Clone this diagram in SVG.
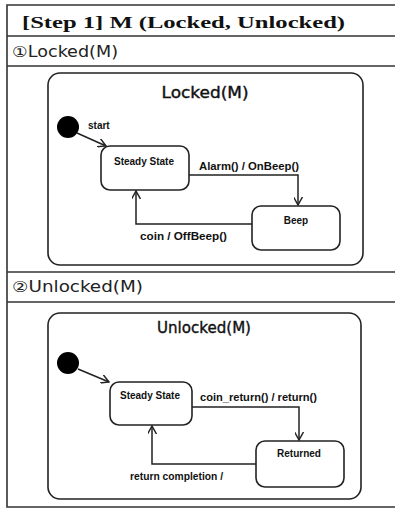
<svg xmlns="http://www.w3.org/2000/svg" width="395" height="509" viewBox="0 0 395 509">
<style>
.frame{fill:none;stroke:#333;stroke-width:1.6}
.sep{stroke:#333;stroke-width:1.6}
.outer{fill:#fff;stroke:#222;stroke-width:1.6}
.st{fill:#fff;stroke:#222;stroke-width:1.6}
.edge{fill:none;stroke:#222;stroke-width:1.5}
.hdr{font-family:"Liberation Serif","DejaVu Serif",serif;font-weight:bold;font-size:17px;fill:#111}
.sec{font-family:"DejaVu Sans Condensed","DejaVu Sans",sans-serif;font-size:15px;fill:#222}
.ttl{font-family:"DejaVu Sans",sans-serif;font-size:16px;fill:#111;stroke:#111;stroke-width:0.4}
.lbl{font-family:"Liberation Sans",Arial,sans-serif;font-weight:bold;font-size:10px;fill:#111}
.dot{fill:#000}
</style>
<defs>
<marker id="arr" viewBox="0 0 10 10" refX="9" refY="5" markerWidth="9" markerHeight="9" markerUnits="userSpaceOnUse" orient="auto">
<path d="M0,0 L9,5 L0,10" fill="none" stroke="#222" stroke-width="1.6"/>
</marker>
</defs>
<rect width="395" height="509" fill="#fff"/>
<g id="frame">
<path class="frame" d="M397,5 H7 V507 H397"/>
<line class="sep" x1="7" y1="36" x2="397" y2="36"/>
<line class="sep" x1="7" y1="66" x2="397" y2="66"/>
<line class="sep" x1="7" y1="272" x2="397" y2="272"/>
<line class="sep" x1="7" y1="302" x2="397" y2="302"/>
<text class="hdr" x="22" y="28" textLength="323" lengthAdjust="spacingAndGlyphs">[Step 1] M (Locked, Unlocked)</text>
<text class="sec" x="12" y="57" textLength="106" lengthAdjust="spacingAndGlyphs">①Locked(M)</text>
<text class="sec" x="12" y="292" textLength="131" lengthAdjust="spacingAndGlyphs">②Unlocked(M)</text>
</g>
<g id="locked">
<rect class="outer" x="48" y="73" width="315" height="192" rx="12"/>
<text class="ttl" x="205" y="98" text-anchor="middle" textLength="87" lengthAdjust="spacingAndGlyphs">Locked(M)</text>
</g>
<g id="locked-init"><circle class="dot" cx="68" cy="127" r="11"/></g>
<g id="locked-steady">
<rect class="st" x="101" y="146" width="88" height="44" rx="9"/>
<text class="lbl" x="144" y="165" text-anchor="middle">Steady State</text>
</g>
<g id="locked-beep">
<rect class="st" x="252" y="206" width="88" height="44" rx="9"/>
<text class="lbl" x="296" y="224" text-anchor="middle">Beep</text>
</g>
<g id="unlocked">
<rect class="outer" x="48" y="313" width="313" height="186" rx="12"/>
<text class="ttl" x="204" y="333" text-anchor="middle" textLength="94" lengthAdjust="spacingAndGlyphs">Unlocked(M)</text>
</g>
<g id="unlocked-init"><circle class="dot" cx="68" cy="363" r="11"/></g>
<g id="unlocked-steady">
<rect class="st" x="110" y="382" width="82" height="43" rx="9"/>
<text class="lbl" x="150" y="399" text-anchor="middle">Steady State</text>
</g>
<g id="unlocked-returned">
<rect class="st" x="256" y="441" width="88" height="46" rx="9"/>
<text class="lbl" x="299" y="457" text-anchor="middle">Returned</text>
</g>
<g id="connectors">
<path class="edge" d="M77,133 L106,146" marker-end="url(#arr)"/>
<text class="lbl" x="88" y="129">start</text>
<path class="edge" d="M189,175 H298 V205" marker-end="url(#arr)"/>
<text class="lbl" x="199" y="170" textLength="100" lengthAdjust="spacingAndGlyphs">Alarm() / OnBeep()</text>
<path class="edge" d="M252,224 H136 V191" marker-end="url(#arr)"/>
<text class="lbl" x="140" y="240" textLength="87" lengthAdjust="spacingAndGlyphs">coin / OffBeep()</text>
<path class="edge" d="M78,369 L109,382" marker-end="url(#arr)"/>
<path class="edge" d="M192,407 H299 V440" marker-end="url(#arr)"/>
<text class="lbl" x="200" y="401" textLength="117" lengthAdjust="spacingAndGlyphs">coin_return() / return()</text>
<path class="edge" d="M256,464 H152 V426" marker-end="url(#arr)"/>
<text class="lbl" x="130" y="480" textLength="93" lengthAdjust="spacingAndGlyphs">return completion /</text>
</g>
</svg>
